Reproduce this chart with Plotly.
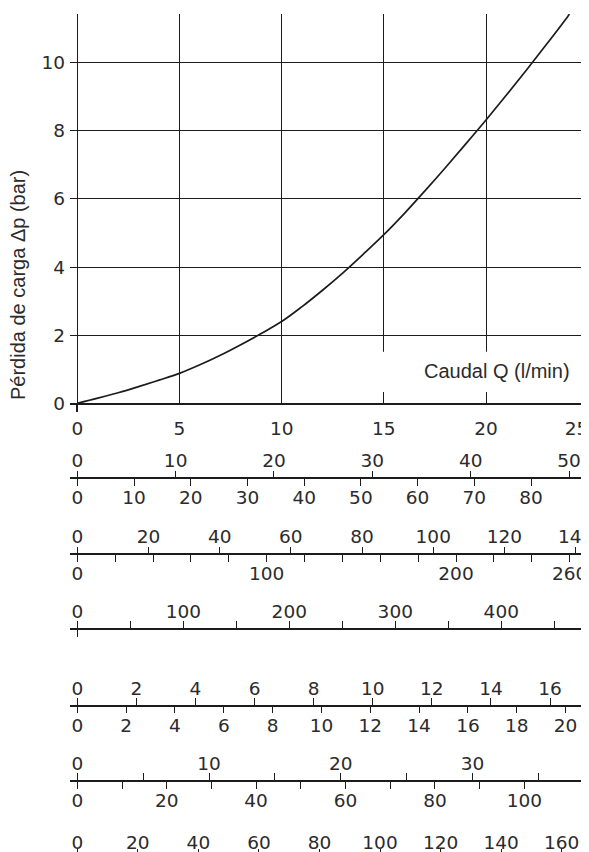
import plotly.graph_objects as go

# ---------------- data ----------------
# main curve: flow (l/min) vs pressure drop (bar)
flow = [0, 1, 2, 3, 4, 5, 6, 7, 8, 9, 10, 11, 12, 13, 14, 15, 16, 17, 18, 19, 20, 21, 22, 23, 24, 24.08]
dp = [0, 0.15, 0.31, 0.49, 0.68, 0.88, 1.13, 1.41, 1.72, 2.05, 2.40, 2.84, 3.32, 3.83, 4.38,
      4.95, 5.57, 6.23, 6.91, 7.61, 8.32, 9.05, 9.80, 10.57, 11.36, 11.43]

x_ticks = [0, 5, 10, 15, 20, 25]
y_ticks = [0, 2, 4, 6, 8, 10]

# secondary scales: units per l/min, tick values, labelled tick values
a_top_factor = 2.078
a_top_ticks = [0, 10, 20, 30, 40, 50]
a_top_labels = [0, 10, 20, 30, 40, 50]

a_bot_factor = 3.603
a_bot_ticks = [0, 10, 20, 30, 40, 50, 60, 70, 80]
a_bot_labels = [0, 10, 20, 30, 40, 50, 60, 70, 80]

b_top_factor = 5.741
b_top_ticks = [0, 20, 40, 60, 80, 100, 120, 140]
b_top_labels = [0, 20, 40, 60, 80, 100, 120, 140]

b_bot_factor = 10.792
b_bot_ticks = [0, 20, 40, 60, 80, 100, 120, 140, 160, 180, 200, 220, 240, 260]
b_bot_labels = [0, 100, 200, 260]

c_top_factor = 19.28
c_top_ticks = [0, 50, 100, 150, 200, 250, 300, 350, 400, 450]
c_top_labels = [0, 100, 200, 300, 400]

d_top_factor = 0.6917
d_top_ticks = [0, 2, 4, 6, 8, 10, 12, 14, 16]
d_top_labels = [0, 2, 4, 6, 8, 10, 12, 14, 16]

d_bot_factor = 0.837
d_bot_ticks = [0, 2, 4, 6, 8, 10, 12, 14, 16, 18, 20]
d_bot_labels = [0, 2, 4, 6, 8, 10, 12, 14, 16, 18, 20]

e_top_factor = 1.5508
e_top_ticks = [0, 5, 10, 15, 20, 25, 30, 35]
e_top_labels = [0, 10, 20, 30]

e_bot_factor = 4.5716
e_bot_ticks = [0, 10, 20, 30, 40, 50, 60, 70, 80, 90, 100]
e_bot_labels = [0, 20, 40, 60, 80, 100]

f_top_factor = 6.751
f_top_ticks = [0, 20, 40, 60, 80, 100, 120, 140, 160]
f_top_labels = [0, 20, 40, 60, 80, 100, 120, 140, 160]

# ---------------- layout constants ----------------
OFF = 8                      # page body margin of the html page
W, H = 589 - OFF, 852 - OFF  # figure size so that it ends at the window edge
ML = 70 - OFF
X0, X1 = -0.357, 25.04
Y1 = 11.43
LINE = "#1c1c1c"
TXT = "#2b2b2b"
TICKFONT = dict(family="DejaVu Sans, Liberation Sans, Arial, sans-serif", size=18.5, color=TXT)
TITLEFONT = dict(family="Liberation Sans, Arial, sans-serif", size=20, color=TXT)
FIGSP = "\u2007"


def ppos(ypx):
    """window pixel row -> paper fraction"""
    return (H - (ypx - OFF)) / H


def main_label(v):
    # last label sits against the window edge: nudge it inward like the original
    return str(v) + (FIGSP * 2 if v == x_ticks[-1] else "")


fig = go.Figure()
fig.add_trace(go.Scatter(x=flow, y=dp, mode="lines", line=dict(color=LINE, width=1.7),
                         showlegend=False, hoverinfo="skip", line_shape="spline"))

layout = dict(
    width=W, height=H,
    margin=dict(l=ML, r=0, t=0, b=0, pad=0, autoexpand=False),
    paper_bgcolor="white", plot_bgcolor="white",
    showlegend=False,
    xaxis=dict(range=[X0, X1], domain=[0, 1], tickmode="array", tickvals=x_ticks,
               ticktext=[main_label(v) for v in x_ticks], ticks="", showgrid=True,
               gridcolor=LINE, gridwidth=1.2, zeroline=False, showline=True,
               linecolor=LINE, linewidth=1.5, tickfont=TICKFONT, automargin=False,
               minor=dict(tickmode="array", tickvals=[0], ticks="outside", ticklen=7,
                          tickcolor=LINE, tickwidth=1.5, showgrid=False),
               ticklabeloverflow="allow", ticklabelstandoff=8, fixedrange=True),
    yaxis=dict(range=[0, Y1], domain=[ppos(403.3), ppos(14)], tickmode="array",
               tickvals=y_ticks, ticktext=[str(v) for v in y_ticks], ticks="",
               showgrid=True, gridcolor=LINE, gridwidth=1.2, zeroline=False,
               showline=False, tickfont=TICKFONT, ticklabelstandoff=4,
               automargin=False, fixedrange=True),
)

scales = [
    (a_top_factor, a_top_ticks, a_top_labels, "top", 478.3),
    (a_bot_factor, a_bot_ticks, a_bot_labels, "bottom", 478.3),
    (b_top_factor, b_top_ticks, b_top_labels, "top", 554.3),
    (b_bot_factor, b_bot_ticks, b_bot_labels, "bottom", 554.3),
    (c_top_factor, c_top_ticks, c_top_labels, "top", 629.0),
    (c_top_factor, [0], [], "bottom", 629.0),
    (d_top_factor, d_top_ticks, d_top_labels, "top", 705.7),
    (d_bot_factor, d_bot_ticks, d_bot_labels, "bottom", 705.7),
    (e_top_factor, e_top_ticks, e_top_labels, "top", 781.0),
    (e_bot_factor, e_bot_ticks, e_bot_labels, "bottom", 781.0),
    (f_top_factor, f_top_ticks, f_top_labels, "top", 852.0),
]

for i, (fac, ticks, labels, side, ypx) in enumerate(scales, start=2):
    last = ypx >= 852
    ax = dict(
        overlaying="x", anchor="free", position=max(0.0, ppos(ypx)), side=side,
        range=[X0 * fac, X1 * fac], tickmode="array", tickvals=ticks,
        ticktext=[str(t) if t in labels else "" for t in ticks],
        ticks="outside", ticklen=3 if last else 7, tickwidth=1.3, tickcolor=LINE,
        showline=not last, linecolor=LINE, linewidth=1.5,
        showgrid=False, zeroline=False, tickfont=TICKFONT, automargin=False,
        ticklabeloverflow="allow", fixedrange=True,
        ticklabelstandoff=-7 if last else -4,
    )
    layout["xaxis%d" % i] = ax
    fig.add_trace(go.Scatter(x=[], y=[], xaxis="x%d" % i, yaxis="y",
                             showlegend=False, hoverinfo="skip"))

fig.update_layout(**layout)

# white box behind the axis label (interrupts the grid)
fig.add_shape(type="rect", xref="x", yref="y", x0=14.5, x1=26.5, y0=0.33, y1=1.51,
              fillcolor="white", line=dict(width=0), layer="above")

fig.add_annotation(text="Caudal Q (l/min)", xref="x", yref="y", x=20.54, y=0.95,
                   showarrow=False, font=TITLEFONT, xanchor="center", yanchor="middle")
fig.add_annotation(text="Pérdida de carga Δp (bar)", xref="paper", yref="paper",
                   x=(18 - 70) / (W - ML), y=ppos(285), textangle=-90, showarrow=False,
                   font=TITLEFONT, xanchor="center", yanchor="middle")

fig.write_html("out.html")
